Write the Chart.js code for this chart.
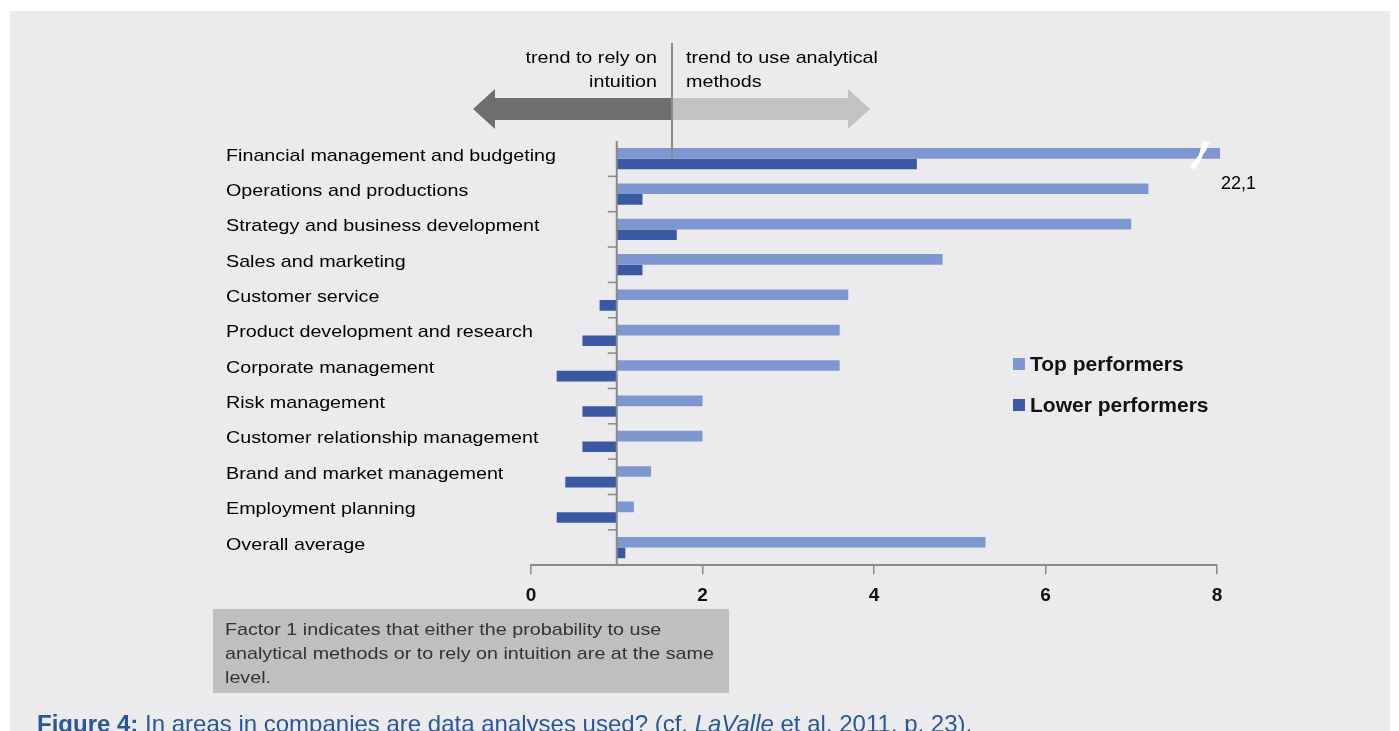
<!DOCTYPE html>
<html>
<head>
<meta charset="utf-8">
<script src="https://cdn.jsdelivr.net/npm/chart.js@4.4.1/dist/chart.umd.min.js"></script>
<style>
  html, body { margin: 0; padding: 0; background: #ffffff; }
  #wrap { position: relative; width: 1399px; height: 731px; }
  canvas { display: block; }
</style>
</head>
<body>
<div id="wrap"><canvas id="c" width="1399" height="731"></canvas></div>
<script>
// ---- data ----
const categories = [
  "Financial management and budgeting",
  "Operations and productions",
  "Strategy and business development",
  "Sales and marketing",
  "Customer service",
  "Product development and research",
  "Corporate management",
  "Risk management",
  "Customer relationship management",
  "Brand and market management",
  "Employment planning",
  "Overall average"
];
const topPerformers   = [22.1, 7.2, 7.0, 4.8, 3.7, 3.6, 3.6, 2.0, 2.0, 1.4, 1.2, 5.3];
const lowerPerformers = [4.5, 1.3, 1.7, 1.3, 0.8, 0.6, 0.3, 0.6, 0.6, 0.4, 0.3, 1.1];
const seriesNames = ["Top performers", "Lower performers"];
const baseFactor = 1;
const xTicks = [0, 2, 4, 6, 8];
const brokenLabel = "22,1";
const arrowLeftText = ["trend to rely on", "intuition"];
const arrowRightText = ["trend to use analytical", "methods"];
const noteLines = [
  "Factor 1 indicates that either the probability to use",
  "analytical methods or to rely on intuition are at the same",
  "level."
];
const captionParts = [
  { t: "Figure 4:", s: "bold" },
  { t: " In areas in companies are data analyses used? (cf. ", s: "normal" },
  { t: "LaValle", s: "italic" },
  { t: " et al. 2011, p. 23).", s: "normal" }
];

const FONT = '"Liberation Sans", Arial, sans-serif';
const COL_TOP = '#7f97d1';
const COL_LOW = '#3b58a2';
const AXIS = '#8a8a8a';

function txt(ctx, s, x, y, font, color, align, sx) {
  ctx.save();
  ctx.font = font;
  ctx.fillStyle = color;
  ctx.textBaseline = 'alphabetic';
  ctx.textAlign = align || 'left';
  ctx.translate(x, y);
  ctx.scale(sx || 1, 1);
  ctx.fillText(s, 0, 0);
  ctx.restore();
}

const decor = {
  id: 'decor',
  beforeDraw(chart) {
    const ctx = chart.ctx;
    ctx.save();
    ctx.fillStyle = '#ffffff';
    ctx.fillRect(0, 0, chart.width, chart.height);
    ctx.fillStyle = '#ebebed';
    ctx.fillRect(10, 11, 1380, 720);
    ctx.restore();
  },
  afterDatasetsDraw(chart) {
    const ctx = chart.ctx;
    const xs = chart.scales.x, ys = chart.scales.y;
    const x1 = xs.getPixelForValue(baseFactor);
    const top = chart.chartArea.top, bottom = chart.chartArea.bottom;
    ctx.save();
    // vertical axis at factor 1
    ctx.strokeStyle = AXIS;
    ctx.lineWidth = 2;
    ctx.beginPath();
    ctx.moveTo(x1, top);
    ctx.lineTo(x1, bottom);
    ctx.stroke();
    // category boundary ticks
    ctx.lineWidth = 1.5;
    for (let i = 1; i < categories.length; i++) {
      const yb = (ys.getPixelForValue(i - 1) + ys.getPixelForValue(i)) / 2;
      ctx.beginPath();
      ctx.moveTo(x1 - 9, yb);
      ctx.lineTo(x1, yb);
      ctx.stroke();
    }
    // break mark on the first top bar
    const bx = xs.getPixelForValue(7.8);
    const by = ys.getPixelForValue(0);
    ctx.fillStyle = '#ffffff';
    ctx.beginPath();
    ctx.moveTo(bx + 3, by - 18);
    ctx.lineTo(bx + 10, by - 16);
    ctx.lineTo(bx + 6, by - 8);
    ctx.lineTo(bx + 3, by - 4);
    ctx.lineTo(bx + 1, by + 2);
    ctx.lineTo(bx - 3, by + 6);
    ctx.lineTo(bx - 4, by + 11);
    ctx.lineTo(bx - 10, by + 8);
    ctx.lineTo(bx - 5, by + 2);
    ctx.lineTo(bx - 1, by - 4);
    ctx.closePath();
    ctx.fill();
    ctx.restore();
    // broken value label
    txt(ctx, brokenLabel, xs.getPixelForValue(8) + 4, by + 30, '18px ' + FONT, '#000', 'left', 1);
  },
  afterDraw(chart) {
    const ctx = chart.ctx;
    const ys = chart.scales.y;
    // category labels
    categories.forEach((c, i) => {
      txt(ctx, c, 226, ys.getPixelForValue(i) + 2, '17px ' + FONT, '#000', 'left', 1.16);
    });
    // arrows
    ctx.save();
    const cy = 109, sh = 11, hh = 20;
    ctx.fillStyle = '#6f6f6f';
    ctx.beginPath();
    ctx.moveTo(473, cy);
    ctx.lineTo(495, cy - hh);
    ctx.lineTo(495, cy - sh);
    ctx.lineTo(672, cy - sh);
    ctx.lineTo(672, cy + sh);
    ctx.lineTo(495, cy + sh);
    ctx.lineTo(495, cy + hh);
    ctx.closePath();
    ctx.fill();
    ctx.fillStyle = '#c2c2c2';
    ctx.beginPath();
    ctx.moveTo(870, cy);
    ctx.lineTo(848, cy - hh);
    ctx.lineTo(848, cy - sh);
    ctx.lineTo(672, cy - sh);
    ctx.lineTo(672, cy + sh);
    ctx.lineTo(848, cy + sh);
    ctx.lineTo(848, cy + hh);
    ctx.closePath();
    ctx.fill();
    ctx.strokeStyle = AXIS;
    ctx.lineWidth = 2;
    ctx.beginPath();
    ctx.moveTo(672, 43);
    ctx.lineTo(672, 158);
    ctx.stroke();
    ctx.restore();
    txt(ctx, arrowLeftText[0], 657, 63, '17px ' + FONT, '#000', 'right', 1.16);
    txt(ctx, arrowLeftText[1], 657, 87, '17px ' + FONT, '#000', 'right', 1.16);
    txt(ctx, arrowRightText[0], 686, 63, '17px ' + FONT, '#000', 'left', 1.16);
    txt(ctx, arrowRightText[1], 686, 87, '17px ' + FONT, '#000', 'left', 1.16);
    // legend
    const leg = [[COL_TOP, 358], [COL_LOW, 399]];
    leg.forEach((l, i) => {
      ctx.fillStyle = l[0];
      ctx.fillRect(1013, l[1], 12, 12);
      txt(ctx, seriesNames[i], 1030, l[1] + 13, 'bold 21px ' + FONT, '#111', 'left', 1);
    });
    // note box
    ctx.fillStyle = '#bfbfbf';
    ctx.fillRect(213, 609, 516, 84);
    noteLines.forEach((s, i) => {
      txt(ctx, s, 225, 635 + i * 24, '17px ' + FONT, '#333', 'left', 1.16);
    });
    // caption
    let cx = 37;
    captionParts.forEach(p => {
      const f = (p.s === 'bold' ? 'bold ' : p.s === 'italic' ? 'italic ' : '') + '24px ' + FONT;
      ctx.font = f;
      txt(ctx, p.t, cx, 732, f, '#2b5797', 'left', 1);
      cx += ctx.measureText(p.t).width;
    });
  }
};

new Chart(document.getElementById('c'), {
  type: 'bar',
  data: {
    labels: categories,
    datasets: [
      { label: seriesNames[0], data: topPerformers, base: baseFactor, backgroundColor: COL_TOP,
        clip: { left: 0, top: 0, right: 3, bottom: 0 } },
      { label: seriesNames[1], data: lowerPerformers, base: baseFactor, backgroundColor: COL_LOW }
    ]
  },
  options: {
    indexAxis: 'y',
    responsive: false,
    animation: false,
    events: [],
    categoryPercentage: 0.6,
    barPercentage: 1.0,
    layout: { padding: { left: 531, right: 182, top: 141, bottom: 114 } },
    plugins: { legend: { display: false }, tooltip: { enabled: false } },
    scales: {
      y: { display: false },
      x: {
        min: 0, max: 8,
        afterBuildTicks(axis) { axis.ticks = xTicks.map(v => ({ value: v })); },
        grid: { drawOnChartArea: false, drawTicks: true, tickLength: 9, color: AXIS, lineWidth: 1.5 },
        border: { display: true, color: AXIS, width: 2 },
        ticks: { font: { family: FONT, size: 19, weight: 'bold' }, color: '#111', padding: 10 }
      }
    }
  },
  plugins: [decor]
});
</script>
</body>
</html>
